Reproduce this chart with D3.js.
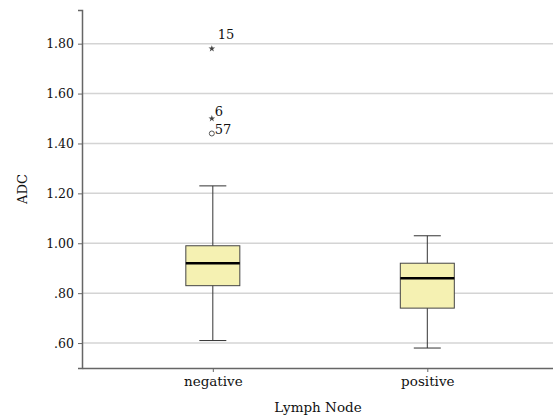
<!DOCTYPE html>
<html>
<head>
<meta charset="utf-8">
<script src="https://cdn.jsdelivr.net/npm/d3@7"></script>
<style>
  body { margin: 0; background: #fff; }
  text { font-family: "DejaVu Serif", "Liberation Serif", serif; fill: #111; }
</style>
</head>
<body>
<div id="chart"></div>
<script>
// box summaries
const groups = ['negative', 'positive'];
const whiskerLow = [0.61, 0.58];
const q1 = [0.83, 0.74];
const median = [0.92, 0.86];
const q3 = [0.99, 0.92];
const whiskerHigh = [1.23, 1.03];

// outliers: group, value, case label, kind
const outGroup = ['negative', 'negative', 'negative'];
const outValue = [1.78, 1.50, 1.44];
const outLabel = ['15', '6', '57'];
const outKind = ['extreme', 'extreme', 'outlier'];

const yTicks = [0.6, 0.8, 1.0, 1.2, 1.4, 1.6, 1.8];

const width = 553;
const height = 418;
const margin = {top: 10, right: 0, bottom: 50, left: 82};

const svg = d3.select('#chart').append('svg')
  .attr('width', width)
  .attr('height', height);

const y = d3.scaleLinear()
  .domain([0.5, 1.935])
  .range([height - margin.bottom, margin.top]);

const x = d3.scalePoint()
  .domain(groups)
  .range([margin.left, width - margin.right])
  .padding(0.598)
  .align(0.51);

const fmt = (v) => {
  const s = v.toFixed(2);
  return s.startsWith('0') ? s.slice(1) : s;
};

// gridlines
svg.append('g')
  .selectAll('line')
  .data(yTicks)
  .enter().append('line')
    .attr('x1', margin.left)
    .attr('x2', width - margin.right)
    .attr('y1', d => y(d))
    .attr('y2', d => y(d))
    .attr('stroke', '#d4d4d4')
    .attr('stroke-width', 1.5);

// y axis
const yAxis = svg.append('g')
  .attr('transform', `translate(${margin.left},0)`)
  .call(d3.axisLeft(y).tickValues(yTicks).tickSize(4).tickFormat(fmt));
yAxis.select('.domain').attr('stroke', '#666').attr('stroke-width', 1.5);
yAxis.selectAll('.tick line').attr('stroke', '#666');
yAxis.selectAll('.tick text')
  .attr('font-size', 12.5)
  .attr('x', -8)
  .attr('fill', '#111');

// x axis
const xAxis = svg.append('g')
  .attr('transform', `translate(0,${height - margin.bottom})`)
  .call(d3.axisBottom(x).tickSize(4).tickSizeOuter(0));
xAxis.select('.domain').attr('stroke', '#666').attr('stroke-width', 1.5);
xAxis.selectAll('.tick line').attr('stroke', '#666');
xAxis.selectAll('.tick text')
  .attr('font-size', 13.5)
  .attr('y', 8)
  .attr('fill', '#111');

// axis titles
svg.append('text')
  .attr('transform', `translate(27,${(margin.top + height - margin.bottom) / 2}) rotate(-90)`)
  .attr('text-anchor', 'middle')
  .attr('font-size', 13)
  .text('ADC');

svg.append('text')
  .attr('x', 318)
  .attr('y', 412)
  .attr('text-anchor', 'middle')
  .attr('font-size', 13.5)
  .text('Lymph Node');

// boxes
const boxW = 54;
const capW = 27;
const boxes = svg.append('g')
  .selectAll('g')
  .data(groups)
  .enter().append('g');

boxes.append('line')
  .attr('x1', d => x(d))
  .attr('x2', d => x(d))
  .attr('y1', (d, i) => y(whiskerLow[i]))
  .attr('y2', (d, i) => y(whiskerHigh[i]))
  .attr('stroke', '#333');

boxes.selectAll('.cap')
  .data((d, i) => [whiskerLow[i], whiskerHigh[i]].map(v => ({g: d, v: v})))
  .enter().append('line')
    .attr('class', 'cap')
    .attr('x1', d => x(d.g) - capW / 2)
    .attr('x2', d => x(d.g) + capW / 2)
    .attr('y1', d => y(d.v))
    .attr('y2', d => y(d.v))
    .attr('stroke', '#333');

boxes.append('rect')
  .attr('x', d => x(d) - boxW / 2)
  .attr('width', boxW)
  .attr('y', (d, i) => y(q3[i]))
  .attr('height', (d, i) => y(q1[i]) - y(q3[i]))
  .attr('fill', '#f5f1b2')
  .attr('stroke', '#444');

boxes.append('line')
  .attr('x1', d => x(d) - boxW / 2)
  .attr('x2', d => x(d) + boxW / 2)
  .attr('y1', (d, i) => y(median[i]))
  .attr('y2', (d, i) => y(median[i]))
  .attr('stroke', '#000')
  .attr('stroke-width', 2.5);

// outliers
const outs = svg.append('g')
  .selectAll('g')
  .data(outValue.map((v, i) => ({g: outGroup[i], v: v, label: outLabel[i], kind: outKind[i]})))
  .enter().append('g')
    .attr('transform', d => `translate(${x(d.g) - 1},${y(d.v)})`);

outs.filter(d => d.kind === 'extreme')
  .append('path')
    .attr('d', d3.symbol(d3.symbolStar, 14))
    .attr('fill', '#444');

outs.filter(d => d.kind === 'outlier')
  .append('circle')
    .attr('r', 2.5)
    .attr('fill', 'none')
    .attr('stroke', '#555');

outs.append('text')
  .attr('x', (d, i) => i === 0 ? 6 : 3)
  .attr('y', (d, i) => i === 0 ? -10 : i === 1 ? -3 : 1)
  .attr('font-size', 13)
  .text(d => d.label);
</script>
</body>
</html>
